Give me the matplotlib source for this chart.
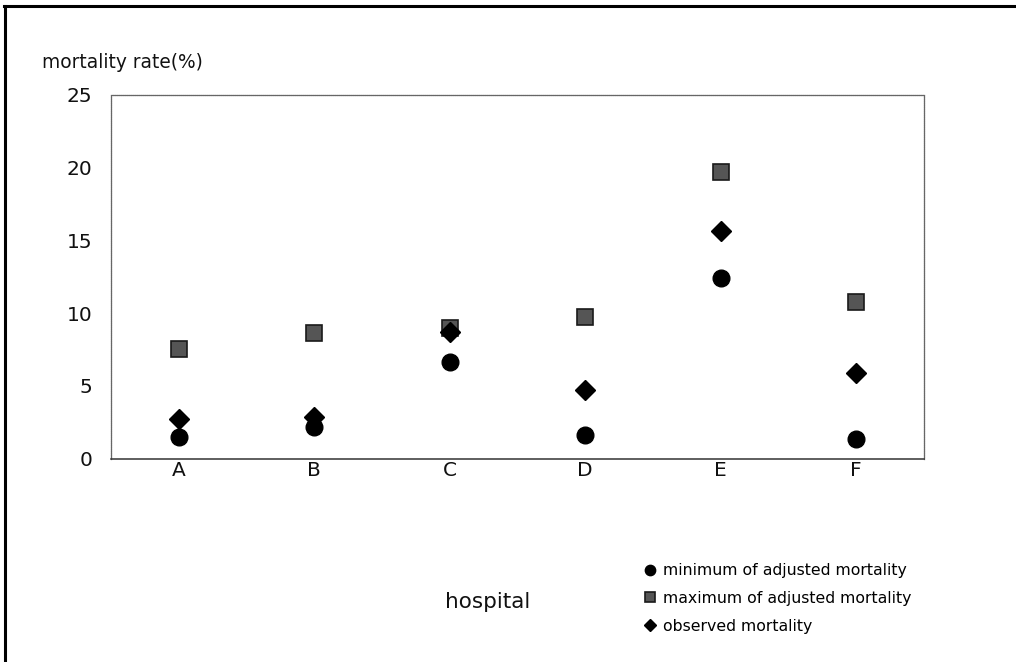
import matplotlib
matplotlib.use("Agg")
import matplotlib.pyplot as plt
from matplotlib.lines import Line2D

hospitals = ["A", "B", "C", "D", "E", "F"]
min_adjusted = [1.46, 2.15, 6.66, 1.62, 12.39, 1.32]
max_adjusted = [7.51, 8.61, 8.95, 9.75, 19.72, 10.78]
observed = [2.72, 2.87, 8.70, 4.71, 15.67, 5.86]
y_ticks = [0, 5, 10, 15, 20, 25]

plt.rcParams['font.family'] = ['DejaVu Sans']

fig = plt.figure(figsize=(10.16, 6.62), dpi=100)
ax = fig.add_axes([0.1093, 0.3074, 0.8001, 0.5491])

x = list(range(len(hospitals)))
ax.plot(x, min_adjusted, linestyle='none', marker='o', markersize=12,
        color='black', label='minimum of adjusted mortality', zorder=3)
ax.plot(x, max_adjusted, linestyle='none', marker='s', markersize=12.2,
        color='#555555', markeredgecolor='#1a1a1a', markeredgewidth=1.2,
        label='maximum of adjusted mortality', zorder=2)
ax.plot(x, observed, linestyle='none', marker='D', markersize=10,
        color='black', label='observed mortality', zorder=4)

ax.set_xlim(-0.5, 5.5)
ax.set_ylim(0, 25)
ax.set_yticks(y_ticks)
ax.set_yticklabels([str(t) for t in y_ticks])
ax.set_xticks(x)
ax.set_xticklabels(hospitals)
ax.tick_params(axis='both', length=0, labelsize=14.5, colors='#111111')
ax.tick_params(axis='y', pad=13.5)
ax.tick_params(axis='x', pad=2)
for side in ['top', 'right', 'left']:
    ax.spines[side].set_color('#666666')
    ax.spines[side].set_linewidth(0.9)
    ax.spines[side].set_linestyle((0, (1, 0.6)))
ax.spines['bottom'].set_color('#333333')
ax.spines['bottom'].set_linewidth(1.1)

fig.text(0.0413, 0.906, 'mortality rate(%)', fontsize=13.4, ha='left', va='center',
         color='#111111')
fig.text(0.480, 0.0906, 'hospital', fontsize=15.5, ha='center', va='center',
         color='#111111')

leg = fig.legend(loc='upper left', bbox_to_anchor=(0.632, 0.1495), frameon=False,
                 fontsize=11.3, handletextpad=0.32, labelspacing=0.82,
                 handlelength=1.0, markerscale=0.62, borderaxespad=0, borderpad=0)

fig.add_artist(Line2D([0.005, 0.005], [0.0, 0.991], transform=fig.transFigure,
                      color='black', linewidth=2.2))
fig.add_artist(Line2D([0.004, 1.0], [0.991, 0.991], transform=fig.transFigure,
                      color='black', linewidth=2.2))

fig.savefig('out.png', dpi=100)
